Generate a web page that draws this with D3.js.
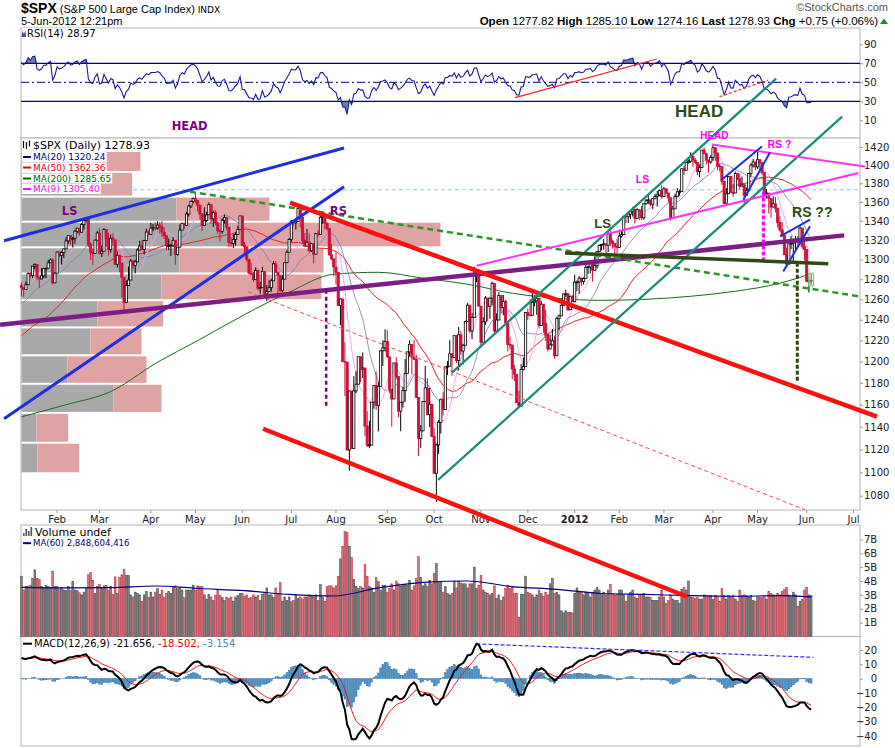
<!DOCTYPE html>
<html>
<head>
<meta charset="utf-8">
<script src="https://cdn.jsdelivr.net/npm/d3@7"></script>
<style>
  body { margin: 0; background: #fff; }
  svg { display: block; font-family: "DejaVu Sans", sans-serif; }
</style>
</head>
<body>
<svg id="chart" width="895" height="748"></svg>
<script>
// closes before the first drawn day (Oct 25 2010 - Jan 6 2011), only used to warm up the indicators
const warmupCloses = [1185.62,1185.64,1182.45,1183.78,1183.26,
  1184.38,1193.57,1197.96,1221.06,1225.85,1223.25,1213.40,1218.71,1213.54,1199.21,1197.75,1178.34,1178.59,1196.69,1199.73,1197.84,1180.73,1198.35,1189.40,1187.76,1180.55,
  1206.07,1221.53,1224.71,1223.12,1223.75,1228.28,1233.00,1240.40,1240.46,1241.59,1235.23,1242.87,1243.91,1247.08,1254.60,1258.84,1256.77,1257.54,1258.51,1259.78,1257.88,1257.64,
  1271.87,1270.20,1276.56,1273.85];

// daily closes, Jan 7 2011 - Jun 5 2012
const closes = [
  1271.50,1269.75,1274.48,1285.96,1283.76,1293.24,1295.02,1281.92,1280.26,1283.35,1290.84,1291.18,1296.63,1299.54,1276.34,1286.12,
  1307.59,1304.03,1307.10,1310.87,1319.05,1324.57,1320.88,1321.87,1329.15,1332.32,1328.01,1336.32,1340.43,1343.01,1315.44,1307.40,1306.10,1319.88,1327.22,
  1306.33,1308.44,1330.97,1321.15,1310.13,1321.82,1320.02,1295.11,1304.28,1296.39,1281.87,1256.88,1273.72,1279.21,1298.38,1293.77,1297.54,1309.66,1313.80,1310.19,1319.44,1328.26,1325.83,
  1332.41,1332.87,1332.63,1335.54,1333.51,1328.17,1324.46,1314.16,1314.41,1314.52,1319.68,1305.14,1312.62,1330.36,1337.38,1335.25,1347.24,1355.66,1360.48,1363.61,
  1361.22,1356.62,1347.32,1335.10,1340.20,1346.29,1357.16,1342.08,1348.65,1337.77,1329.47,1328.98,1340.68,1343.60,1333.27,1317.37,1316.28,1320.47,1325.69,1331.10,1345.20,
  1314.55,1312.94,1300.16,1286.17,1284.94,1279.56,1289.00,1270.98,1271.83,1287.87,1265.42,1267.64,1271.50,1278.36,1295.52,1287.14,1283.50,1268.45,1280.10,1296.67,1307.41,1320.64,
  1339.67,1337.88,1339.22,1353.22,1343.80,1319.49,1313.64,1317.72,1308.87,1316.14,1305.44,1326.73,1325.84,1343.80,1345.02,1337.43,1331.94,1304.89,1300.67,1292.28,
  1286.94,1254.05,1260.34,1200.07,1199.38,1119.46,1172.53,1120.76,1172.64,1178.81,1204.49,1192.76,1193.89,1140.65,1123.53,1123.82,1162.35,1177.60,1159.27,1176.80,1210.08,1212.92,1218.89,
  1204.42,1173.97,1165.24,1198.62,1185.90,1154.23,1162.27,1172.87,1188.68,1209.11,1216.01,1204.09,1202.09,1166.76,1129.56,1136.43,1162.95,1175.38,1151.06,1160.40,1131.42,
  1099.23,1123.95,1144.03,1164.97,1155.46,1194.89,1195.54,1207.25,1203.66,1224.58,1200.86,1225.38,1209.88,1215.39,1238.25,1254.19,1229.05,1242.00,1284.59,1285.09,1253.30,
  1218.28,1237.90,1261.15,1253.23,1261.12,1275.92,1229.10,1239.70,1263.85,1251.78,1257.81,1236.91,1216.13,1215.65,1192.98,1188.04,1161.79,1158.67,1192.55,1195.19,1246.96,
  1244.58,1244.28,1257.08,1258.47,1261.01,1234.35,1255.19,1236.47,1225.73,1211.82,1215.75,1219.66,1205.35,1241.30,1243.72,1254.00,1265.33,1265.43,1249.64,1263.02,1257.60,
  1277.06,1277.30,1281.06,1277.81,1280.70,1292.08,1292.48,1295.50,1289.09,1293.67,1308.04,1314.50,1315.38,1316.00,1314.65,1326.06,1318.43,1316.33,1313.01,1312.41,
  1324.09,1325.54,1344.90,1344.33,1347.05,1349.96,1351.95,1342.64,1351.77,1350.50,1343.23,1358.04,1361.23,1362.21,1357.66,1363.46,1365.74,1367.59,1372.18,1365.68,
  1374.09,1369.63,1364.33,1343.36,1352.63,1365.91,1370.87,1371.09,1395.95,1394.28,1402.60,1404.17,1409.75,1405.52,1402.89,1392.78,1397.11,1416.51,1412.52,1405.54,1403.28,1408.47,
  1419.04,1413.38,1398.96,1398.08,1382.20,1358.59,1368.71,1387.57,1370.26,1369.57,1390.78,1385.14,1376.92,1378.53,1366.94,1371.97,1390.69,1399.98,1403.36,1397.91,
  1405.82,1402.31,1391.57,1369.10,1369.58,1363.72,1354.58,1357.99,1353.39,1338.35,1330.66,1324.80,1304.86,1295.22,1315.99,1316.63,1318.86,1320.68,1317.82,1332.42,1313.32,1310.33,
  1278.04,1278.18,1278.93
];

const highs = [
  1276.8,1271.5,1277.6,1286.8,1287.0,1293.2,1296.1,1294.6,1281.9,1291.2,1291.3,1291.3,1299.7,1301.3,1301.3,1287.2,
  1308.0,1307.6,1308.6,1311.0,1322.9,1324.9,1324.6,1323.2,1330.8,1332.6,1330.6,1337.8,1340.8,1344.1,1338.9,1317.9,1310.9,1320.6,1329.4,
  1332.3,1314.4,1332.3,1331.1,1327.7,1325.7,1326.8,1320.0,1308.4,1304.3,1288.9,1280.9,1278.8,1292.7,1300.6,1299.0,1300.0,1311.3,1319.2,1319.7,1320.3,1331.7,1329.8,
  1337.9,1336.7,1338.2,1339.5,1338.8,1339.5,1333.2,1321.4,1321.4,1315.7,1323.0,1319.1,1312.6,1336.1,1337.5,1337.8,1349.6,1357.1,1361.7,1364.6,
  1370.6,1362.2,1355.4,1348.0,1354.4,1349.4,1359.4,1357.2,1351.0,1351.0,1339.4,1331.1,1342.7,1346.8,1342.9,1333.3,1323.4,1325.9,1328.5,1334.6,1345.2,
  1345.2,1318.0,1312.9,1300.6,1296.2,1287.2,1291.9,1289.0,1277.3,1292.5,1287.9,1274.1,1279.0,1280.4,1298.6,1298.6,1286.8,1284.0,1284.0,1296.7,1309.2,1322.0,
  1341.0,1340.0,1340.1,1356.5,1353.2,1343.3,1327.2,1331.5,1326.7,1317.1,1316.0,1327.2,1330.4,1347.0,1346.1,1344.1,1338.5,1331.9,1316.3,1300.7,
  1307.4,1286.9,1261.0,1260.3,1218.1,1199.4,1172.9,1172.6,1186.3,1190.7,1204.5,1204.5,1208.5,1193.9,1154.1,1145.5,1162.4,1178.0,1190.7,1181.2,1210.1,1220.1,1230.7,
  1230.0,1203.4,1165.3,1198.6,1204.2,1185.9,1162.5,1176.4,1202.4,1209.1,1220.1,1216.0,1220.4,1206.3,1166.8,1141.7,1163.0,1195.9,1184.4,1175.3,1159.9,
  1139.0,1125.2,1146.1,1165.5,1171.4,1194.9,1200.4,1220.3,1203.7,1224.6,1224.6,1233.1,1229.4,1216.7,1239.0,1256.5,1254.2,1246.3,1292.7,1287.1,1284.9,
  1238.9,1242.5,1263.2,1261.1,1261.7,1277.6,1261.7,1246.3,1267.0,1263.9,1264.3,1259.6,1237.4,1223.5,1215.6,1196.8,1188.0,1172.7,1197.4,1203.7,1247.0,
  1251.1,1260.1,1266.7,1264.0,1267.1,1260.9,1258.3,1255.2,1249.9,1225.7,1225.3,1231.0,1224.6,1242.8,1245.1,1255.2,1265.4,1269.4,1265.9,1263.5,1264.1,
  1284.6,1278.7,1283.1,1281.8,1282.0,1296.5,1293.8,1296.8,1295.5,1303.0,1308.1,1315.5,1315.4,1321.0,1315.4,1328.3,1333.5,1320.5,1316.3,1321.4,
  1330.7,1329.2,1345.3,1344.4,1349.2,1351.0,1354.3,1352.0,1353.4,1351.8,1355.9,1359.0,1363.4,1367.8,1362.2,1364.2,1368.9,1371.9,1373.1,1378.0,
  1376.2,1374.5,1369.6,1364.3,1356.0,1368.7,1374.8,1373.0,1396.1,1399.4,1402.6,1405.9,1414.0,1409.7,1407.8,1402.9,1400.5,1416.6,1419.2,1413.7,1403.3,1410.9,
  1422.4,1419.2,1413.4,1401.6,1398.0,1383.0,1374.7,1388.1,1387.6,1379.6,1392.8,1390.8,1390.4,1387.4,1378.5,1375.6,1391.4,1402.1,1406.6,1403.4,
  1415.3,1405.8,1403.1,1391.5,1373.9,1369.6,1363.7,1365.9,1365.2,1353.4,1344.9,1338.7,1326.4,1312.2,1316.0,1324.1,1320.7,1324.1,1324.2,1334.9,1331.3,1319.7,
  1310.3,1282.6,1285.1
];

const lows = [
  1262.7,1262.2,1269.6,1275.8,1282.0,1281.1,1290.2,1278.9,1271.3,1282.1,1281.1,1281.1,1291.2,1296.9,1274.6,1276.8,
  1286.1,1302.6,1294.8,1301.4,1312.8,1316.0,1314.9,1312.4,1316.1,1326.9,1324.6,1328.9,1330.9,1338.1,1312.6,1299.3,1294.3,1307.6,1320.9,
  1305.3,1302.6,1309.0,1312.6,1303.9,1306.9,1314.2,1294.5,1291.8,1287.0,1261.9,1249.1,1261.9,1274.0,1279.2,1290.4,1285.9,1297.7,1310.2,1310.2,1305.3,1321.9,1325.0,
  1328.9,1329.1,1330.0,1330.7,1326.6,1322.9,1321.1,1309.2,1309.5,1303.6,1312.6,1294.7,1303.9,1313.6,1331.0,1331.4,1335.3,1344.4,1353.6,1358.7,
  1358.6,1349.8,1341.5,1329.2,1336.4,1338.6,1346.3,1336.6,1333.5,1335.3,1326.6,1318.5,1326.6,1337.0,1330.5,1312.6,1313.0,1311.8,1314.2,1325.7,1331.1,
  1313.7,1305.6,1297.9,1284.9,1284.7,1277.1,1280.9,1268.5,1265.6,1272.2,1261.9,1258.1,1267.6,1267.6,1278.4,1286.8,1262.9,1267.4,1267.1,1280.1,1296.7,1307.4,
  1318.0,1335.0,1330.9,1339.2,1333.0,1316.4,1313.3,1314.5,1306.9,1307.6,1295.9,1305.4,1323.7,1325.8,1336.9,1331.1,1329.6,1303.6,1299.2,1282.9,
  1274.7,1254.0,1234.6,1199.5,1168.1,1119.3,1101.5,1120.8,1121.1,1170.5,1178.9,1180.5,1184.4,1131.6,1122.1,1121.1,1123.8,1156.3,1155.1,1135.9,1179.6,1195.8,1209.4,
  1203.4,1170.6,1140.1,1165.2,1183.3,1148.4,1136.1,1157.4,1162.7,1189.0,1204.5,1188.3,1201.3,1166.2,1114.2,1121.4,1136.1,1163.1,1150.3,1139.9,1131.3,
  1098.9,1074.8,1116.1,1134.0,1150.3,1158.7,1187.2,1195.9,1186.6,1205.5,1198.6,1191.5,1206.3,1197.3,1215.4,1238.7,1226.8,1221.1,1242.0,1277.0,1253.2,
  1215.6,1219.0,1234.8,1238.4,1240.8,1254.0,1226.4,1227.7,1240.7,1246.7,1244.3,1236.5,1209.4,1211.4,1183.2,1181.7,1161.8,1158.7,1158.7,1191.8,1196.7,
  1239.7,1243.4,1244.3,1253.0,1244.8,1231.5,1234.4,1227.3,1219.4,1209.5,1212.2,1215.2,1202.4,1205.4,1229.5,1243.7,1254.0,1262.3,1248.6,1249.6,1257.5,
  1258.0,1268.1,1265.3,1273.3,1274.6,1280.7,1285.4,1285.8,1277.6,1289.0,1291.0,1307.8,1309.2,1309.9,1306.1,1307.7,1313.6,1311.2,1300.5,1306.7,
  1312.4,1322.4,1325.5,1337.5,1337.7,1341.9,1344.6,1337.4,1342.6,1340.8,1340.8,1341.2,1357.2,1358.1,1355.5,1352.3,1363.5,1354.9,1366.0,1363.8,
  1365.7,1368.4,1359.1,1340.0,1343.4,1352.6,1366.0,1366.7,1371.1,1389.2,1394.3,1401.5,1402.4,1397.7,1400.6,1388.7,1386.7,1397.1,1411.9,1400.5,1391.7,1401.4,
  1404.5,1404.6,1394.1,1392.9,1378.2,1357.4,1358.6,1368.7,1369.9,1365.4,1369.6,1383.3,1372.9,1377.0,1358.8,1366.9,1372.0,1387.3,1397.3,1394.0,
  1395.7,1393.9,1388.7,1368.0,1363.9,1347.8,1343.1,1354.6,1348.9,1332.9,1328.5,1322.8,1304.9,1292.0,1295.7,1310.5,1296.5,1310.5,1314.2,1317.9,1310.8,1298.9,
  1277.3,1266.7,1274.2
];

// daily volume, billions of shares
const volumes = [
  4.35,3.35,3.6,3.6,3.7,4.2,4.8,4.2,4.1,3.6,3.45,3.7,3.6,3.55,4.7,3.6,
  3.6,3.4,3.55,3.35,3.3,3.6,3.3,3.95,3.35,3.3,3.15,3.0,3.2,3.45,4.45,4.6,4.05,3.1,3.6,
  3.75,3.45,3.65,3.7,3.35,3.6,3.05,4.3,3.1,4.25,4.45,4.85,4.4,4.4,3.0,2.85,3.2,3.1,3.0,2.55,3.0,3.25,2.8,
  3.2,2.85,3.2,3.45,3.05,3.35,2.8,3.1,3.25,3.1,3.6,3.65,3.45,3.55,3.35,2.8,3.35,3.35,3.35,3.7,
  3.35,3.65,3.6,3.6,3.0,2.7,3.05,2.85,2.6,2.95,3.3,2.95,2.8,2.6,2.8,2.75,2.85,2.55,2.85,2.95,3.1,
  3.1,2.9,3.0,2.75,2.8,3.0,2.85,2.95,2.6,3.05,3.2,3.5,3.0,3.0,2.8,3.5,3.1,3.9,2.55,2.85,2.6,2.85,
  2.5,2.6,3.0,2.75,2.85,2.7,2.85,2.85,3.0,2.9,2.85,3.0,2.6,3.75,2.85,2.55,3.6,3.65,3.65,3.5,
  3.65,4.35,5.6,6.5,7.55,7.5,6.5,5.7,4.1,3.6,3.45,3.6,3.5,5.2,4.35,3.6,3.5,3.2,4.25,3.95,3.35,3.7,3.7,
  3.2,3.45,3.8,3.35,4.0,3.8,3.6,3.7,3.75,3.7,4.05,3.35,3.65,4.2,5.75,4.25,3.65,3.8,3.6,4.05,3.8,
  4.55,5.25,3.95,3.9,3.2,3.6,3.1,3.0,3.1,4.0,3.5,4.0,3.85,3.8,3.8,3.5,3.8,3.8,5.0,3.45,3.7,
  4.4,3.35,3.2,3.1,3.0,3.1,3.65,2.75,3.0,2.6,2.85,3.45,3.7,3.45,3.6,3.1,3.1,1.4,3.05,3.05,4.35,
  3.2,3.1,3.0,2.8,3.0,3.35,3.1,2.9,3.2,3.0,3.8,4.2,3.1,3.2,3.0,1.85,1.7,1.85,1.75,1.75,1.7,
  3.1,3.5,3.2,3.2,3.0,3.2,3.1,2.85,3.2,3.35,3.55,3.35,3.1,3.2,3.0,3.35,3.75,3.1,3.0,3.05,
  3.35,3.35,3.0,2.55,3.0,3.2,3.35,2.85,2.75,3.0,3.0,3.1,2.85,2.85,2.8,2.6,2.6,2.6,2.85,3.35,
  2.85,2.4,2.6,3.0,2.7,2.6,2.6,2.4,3.4,3.55,3.35,4.0,2.85,2.8,2.75,2.8,2.7,2.7,3.0,2.95,2.85,2.95,
  2.7,2.95,2.85,2.55,3.45,2.95,2.7,2.95,2.85,2.95,2.7,2.55,3.35,2.95,3.0,2.95,2.85,2.95,2.6,2.55,
  2.85,2.8,2.8,2.85,2.7,3.25,3.1,3.0,2.95,3.1,3.0,3.25,3.4,3.55,3.0,2.85,3.2,3.0,2.15,2.55,2.7,3.35,
  3.55,3.0,2.95
];

// trading days per month shown (Jan 2011 counted from Jan 7; Jun 2012 full month so the Jul tick lands)
const monthLabels = ["Jan","Feb","Mar","Apr","May","Jun","Jul","Aug","Sep","Oct","Nov","Dec","2012","Feb","Mar","Apr","May","Jun","Jul"];
const monthDays = [16,19,23,20,21,22,20,23,21,21,21,21,20,20,22,20,22,21];

// 200-day and 60-day volume averages every 20 trading days
const sampleDays = [0,20,40,60,80,100,120,140,160,180,200,220,240,260,280,300,320,340,354];
const ma200Vals = [1149,1160,1172,1198,1221,1245,1267,1285,1287,1281,1275,1266,1261,1259,1260,1263,1268,1276,1285.65];
const volMa60Vals = [3.54,3.5,3.52,3.64,3.46,3.3,3.03,2.92,3.5,3.9,4.0,3.6,3.4,3.1,3.03,2.94,2.9,2.94,2.85];

// volume-by-price, 12 zones from lowest to highest close (relative units)
const pbvUp = [16,15,92,46,69,76,140,158,210,155,55,60];
const pbvDown = [41.7,31.7,48,79,51,65.7,160,144,209,93,55.7,59];

const priceTicks = [1080,1100,1120,1140,1160,1180,1200,1220,1240,1260,1280,1300,1320,1340,1360,1380,1400,1420];
const rsiTicks = [10,30,50,70,90];
const volTicks = [1,2,3,4,5,6,7];
const macdTicks = [-40,-30,-20,-10,0,10,20];

// hand-drawn annotations, [day, price]
const trendLines = [
  {pts: [[-7.8,1319.3],[144.6,1418.8]], color: "#1b2ee6", w: 3},
  {pts: [[-7.8,1147.3],[144.6,1376.4]], color: "#1b2ee6", w: 3},
  {pts: [[-9.6,1235.1],[368.8,1324.8]], color: "#7b1d84", w: 4.5},
  {pts: [[75.6,1371.0],[376.8,1262.5]], color: "#2a962a", w: 2.5, dash: "6,4"},
  {pts: [[120.4,1359.2],[383.5,1149.1]], color: "#ff1010", w: 4.5},
  {pts: [[108.3,1138.3],[298.4,997.7]], color: "#ff1010", w: 4.5},
  {pts: [[101.6,1267.5],[351.3,1068.2]], color: "#ff4040", w: 1, dash: "4,3"},
  {pts: [[136.6,1269.5],[136.6,1158.4]], color: "#800080", w: 2.5, dash: "4,3"},
  {pts: [[193.0,1189.5],[338.3,1498.2]], color: "#1c8a7c", w: 2.3},
  {pts: [[186.8,1093.6],[367.9,1454.2]], color: "#1c8a7c", w: 2.3},
  {pts: [[309.5,1422.6],[378.2,1398.5]], color: "#ff33ff", w: 2},
  {pts: [[204.1,1293.7],[375.2,1391.3]], color: "#ff33ff", w: 2},
  {pts: [[332.6,1371.3],[332.6,1299.8]], color: "#ff00ff", w: 3, dash: "4,2"},
  {pts: [[313.9,1384.0],[331.9,1420.6]], color: "#1b2ee6", w: 2},
  {pts: [[323.6,1362.4],[335.6,1414.0]], color: "#1b2ee6", w: 2},
  {pts: [[340.1,1323.8],[353.5,1341.3]], color: "#1b2ee6", w: 2},
  {pts: [[341.5,1287.9],[353.5,1334.3]], color: "#1b2ee6", w: 2},
  {pts: [[243.7,1306.6],[361.7,1295.7]], color: "#2e4a12", w: 3.5},
  {pts: [[347.8,1296.7],[347.8,1181.4]], color: "#2e4a12", w: 3, dash: "4,2"}
];
const levelLine = 1373;
const noteTexts = [
  {t: "HEAD", at: [75.4,1439.4], color: "#7f007f", size: 11.5, font: "DejaVu Sans"},
  {t: "LS", at: [21.6,1346.6], color: "#7f007f", size: 11.5, font: "DejaVu Sans"},
  {t: "RS", at: [142.1,1346.6], color: "#7f007f", size: 11.5, font: "DejaVu Sans"},
  {t: "HEAD", at: [303.8,1453.8], color: "#2e4a12", size: 17, font: "Liberation Sans"},
  {t: "HEAD", at: [310.6,1429.3], color: "#ff00ff", size: 10, font: "Liberation Sans"},
  {t: "RS ?", at: [339.8,1418.5], color: "#ff00ff", size: 10.5, font: "Liberation Sans"},
  {t: "LS", at: [278.4,1380.7], color: "#ff00ff", size: 10.5, font: "Liberation Sans"},
  {t: "RS ??", at: [354.5,1344.4], color: "#2e4a12", size: 14, font: "Liberation Sans"},
  {t: "LS", at: [260.5,1332.8], color: "#2e4a12", size: 13, font: "Liberation Sans"}
];
const rsiLines = [
  {pts: [[221.3,33.8],[284.8,74.5]], color: "#ff2020", w: 1.2},
  {pts: [[312.9,34.8],[334.8,52.4]], color: "#ff2020", w: 1.2, dash: "3,2"}
];
const macdLine = {pts: [[204,24.3],[355,14.9]], color: "#3333dd", w: 1.2, dash: "4,2"};

// ---------------------------------------------------------------

const svg = d3.select("#chart");
const L = 21, R = 860;
const rsiTop = 28, mainTop = 138, mainBot = 510, volTop = 525, volBot = 636.5, macdBot = 746;

const x = d3.scaleLinear().domain([-0.2, 375.9]).range([L, R]);
const yP = d3.scaleLog().domain([1068, 1430]).range([mainBot, mainTop]);
const yR = d3.scaleLinear().domain([0, 100]).range([129.8, 34.8]);
const yV = d3.scaleLinear().domain([0, 8]).range([volBot, volBot - 8 * 13.875]);
const yM = d3.scaleLinear().domain([-40, 20]).range([736, 650]);

// indicators from the closes
const all = warmupCloses.concat(closes);
const off = warmupCloses.length;
function sma(n) {
  return closes.map((c, d) => d3.mean(all.slice(d + off - n + 1, d + off + 1)));
}
function ema(arr, n) {
  const k = 2 / (n + 1), out = [arr[0]];
  for (let i = 1; i < arr.length; i++) out.push(arr[i] * k + out[i - 1] * (1 - k));
  return out;
}
const ma9 = sma(9), ma20 = sma(20), ma50 = sma(50);

let ag = 0, al = 0;
const rsiAll = [];
for (let i = 1; i < all.length; i++) {
  const ch = all[i] - all[i - 1];
  const g = Math.max(ch, 0), l = Math.max(-ch, 0);
  if (i <= 14) { ag += g / 14; al += l / 14; }
  else { ag = (ag * 13 + g) / 14; al = (al * 13 + l) / 14; }
  rsiAll[i] = 100 - 100 / (1 + ag / al);
}
const rsi = closes.map((c, d) => ({d, v: rsiAll[d + off]}));

const e12 = ema(all, 12), e26 = ema(all, 26);
const macdAll = e12.map((v, i) => v - e26[i]);
const sigAll = ema(macdAll, 9);
const macd = closes.map((c, d) => ({d, m: macdAll[d + off], s: sigAll[d + off], h: macdAll[d + off] - sigAll[d + off]}));

const days = closes.map((c, d) => {
  const o = d ? closes[d - 1] : warmupCloses[off - 1];
  return {d, o, c, h: Math.max(highs[d] ?? c, o, c), l: Math.min(lows[d] ?? c, o, c), v: volumes[d]};
});

// panel frames
[[rsiTop, mainTop], [mainTop, mainBot], [volTop, volBot], [volBot, macdBot]].forEach(p => {
  svg.append("rect").attr("x", L).attr("y", p[0]).attr("width", R - L).attr("height", p[1] - p[0])
    .attr("fill", "#fff").attr("stroke", "#b4b4b4");
});

// ---- header
svg.append("text").attr("x", 21).attr("y", 13).style("font-family", "Liberation Sans")
  .call(t => {
    t.append("tspan").text("$SPX").style("font-weight", "bold").style("font-size", "14px");
    t.append("tspan").text(" (S&P 500 Large Cap Index)").style("font-size", "11px");
    t.append("tspan").text(" INDX").style("font-size", "9px").style("font-family", "DejaVu Sans");
  });
svg.append("text").attr("x", 21).attr("y", 24.5).style("font-family", "Liberation Sans").style("font-size", "11px")
  .text("5-Jun-2012 12:21pm");
svg.append("text").attr("x", 888).attr("y", 10.5).attr("text-anchor", "end").style("font-family", "Liberation Sans")
  .style("font-size", "11px").attr("fill", "#555").text("\u00a9StockCharts.com");
svg.append("text").attr("x", 878).attr("y", 24.5).attr("text-anchor", "end").style("font-family", "Liberation Sans")
  .style("font-size", "11.5px")
  .call(t => {
    [["Open", " 1277.82  "], ["High", " 1285.10  "], ["Low", " 1274.16  "], ["Last", " 1278.93  "], ["Chg", " +0.75 (+0.06%)"]]
      .forEach(p => {
        t.append("tspan").text(p[0]).style("font-weight", "bold");
        t.append("tspan").text(p[1]);
      });
  });
svg.append("path").attr("d", "M880,24 L884,18.5 L888,24 Z").attr("fill", "#1a8a1a");

// ---- RSI panel
const rsiG = svg.append("g");
const rsiHi = d3.area().x(k => x(k.d)).y0(yR(70)).y1(k => yR(Math.max(k.v, 70)));
const rsiLo = d3.area().x(k => x(k.d)).y0(yR(30)).y1(k => yR(Math.min(k.v, 30)));
rsiG.append("path").datum(rsi).attr("d", rsiHi).attr("fill", "#6f7fa3");
rsiG.append("path").datum(rsi).attr("d", rsiLo).attr("fill", "#6f7fa3");
[70, 30].forEach(v => rsiG.append("line").attr("x1", L).attr("x2", R).attr("y1", yR(v)).attr("y2", yR(v))
  .attr("stroke", "#000080").attr("stroke-width", 1.2));
rsiG.append("line").attr("x1", L).attr("x2", R).attr("y1", yR(50)).attr("y2", yR(50))
  .attr("stroke", "#000080").attr("stroke-width", 1).attr("stroke-dasharray", "8,3,2,3");
rsiG.append("path").datum(rsi).attr("d", d3.line().x(k => x(k.d)).y(k => yR(k.v)))
  .attr("fill", "none").attr("stroke", "#1a1a9a").attr("stroke-width", 1.1);
rsiLines.forEach(a => rsiG.append("line")
  .attr("x1", x(a.pts[0][0])).attr("y1", yR(a.pts[0][1])).attr("x2", x(a.pts[1][0])).attr("y2", yR(a.pts[1][1]))
  .attr("stroke", a.color).attr("stroke-width", a.w).attr("stroke-dasharray", a.dash || null));

// ---- main panel
const mainG = svg.append("g");
// volume by price
const lo = d3.min(closes), hi = d3.max(closes), zw = (hi - lo) / 12;
const pbv = pbvUp.map((u, k) => ({k, u, dn: pbvDown[k]}));
const xPbv = d3.scaleLinear().domain([0, d3.max(pbv, z => z.u + z.dn)]).range([0, 419]);
pbv.forEach(z => {
  const y1 = yP(lo + (z.k + 1) * zw) + 1, y2 = yP(lo + z.k * zw) - 1;
  mainG.append("rect").attr("x", L + 0.5).attr("y", y1).attr("width", xPbv(z.u)).attr("height", y2 - y1).attr("fill", "#a9a9a9");
  mainG.append("rect").attr("x", L + 0.5 + xPbv(z.u)).attr("y", y1).attr("width", xPbv(z.dn)).attr("height", y2 - y1).attr("fill", "#e0a3a3");
});
mainG.append("line").attr("x1", L).attr("x2", R).attr("y1", yP(levelLine)).attr("y2", yP(levelLine))
  .attr("stroke", "#8fc0e8").attr("stroke-width", 1).attr("stroke-dasharray", "4,3");

// moving averages
const maLine = arr => d3.line().x((v, d) => x(d)).y(v => yP(v))(arr);
mainG.append("path").attr("d", d3.line().curve(d3.curveMonotoneX).x((v, i) => x(sampleDays[i])).y(v => yP(v))(ma200Vals))
  .attr("fill", "none").attr("stroke", "#137013").attr("stroke-width", 1);
mainG.append("path").attr("d", maLine(ma50)).attr("fill", "none").attr("stroke", "#ee1c1c").attr("stroke-width", 1);
mainG.append("path").attr("d", maLine(ma20)).attr("fill", "none").attr("stroke", "#7f7fbf").attr("stroke-width", 1).attr("opacity", 0.85);
mainG.append("path").attr("d", maLine(ma9)).attr("fill", "none").attr("stroke", "#f09cf0").attr("stroke-width", 1).attr("opacity", 0.9);

// candles
const red = "#d0103a";
const col = k => (k.c >= k.o ? "#000" : red);
mainG.selectAll(".wick").data(days).join("line").attr("class", "wick")
  .attr("x1", k => x(k.d)).attr("x2", k => x(k.d)).attr("y1", k => yP(k.h)).attr("y2", k => yP(k.l))
  .attr("stroke", col).attr("stroke-width", 1);
mainG.selectAll(".body").data(days).join("rect").attr("class", "body")
  .attr("x", k => x(k.d) - 1.1).attr("width", 2.2)
  .attr("y", k => yP(Math.max(k.o, k.c)))
  .attr("height", k => Math.max(0.8, yP(Math.min(k.o, k.c)) - yP(Math.max(k.o, k.c))))
  .attr("fill", k => (k.c >= k.o ? "#fff" : red)).attr("stroke", col).attr("stroke-width", 0.8);
const last = days[days.length - 1];
mainG.append("rect").attr("x", x(last.d) - 2.5).attr("y", yP(last.h) - 1).attr("width", 5)
  .attr("height", yP(last.l) - yP(last.h) + 2).attr("fill", "#cfe8c8").attr("fill-opacity", 0.5).attr("stroke", "#7fbf7f");

// x axis months
const cum = d3.cumsum(monthDays);
const monthTicks = monthLabels.slice(1).map((lab, k) => ({lab, d: cum[k]}));
mainG.selectAll(".mt").data(monthTicks).join("line").attr("class", "mt")
  .attr("x1", m => x(m.d)).attr("x2", m => x(m.d)).attr("y1", mainBot).attr("y2", mainBot + 3).attr("stroke", "#999");
mainG.selectAll(".ml").data(monthTicks).join("text").attr("class", "ml")
  .attr("x", m => x(m.d)).attr("y", 523).attr("text-anchor", "middle").style("font-size", "10px")
  .style("font-weight", m => (m.lab === "2012" ? "bold" : "normal")).attr("fill", "#222").text(m => m.lab);

// ---- volume panel
const volG = svg.append("g");
volG.selectAll("rect").data(days).join("rect")
  .attr("x", k => x(k.d) - 0.9).attr("width", 1.8)
  .attr("y", k => yV(k.v)).attr("height", k => yV(0) - yV(k.v))
  .attr("fill", k => (k.d && k.c < closes[k.d - 1] ? "#d8737b" : "#808080"))
  .attr("stroke", k => (k.d && k.c < closes[k.d - 1] ? "#b52a3c" : "#444")).attr("stroke-width", 0.5);
volG.append("path").attr("d", d3.line().curve(d3.curveMonotoneX).x((v, i) => x(sampleDays[i])).y(v => yV(v))(volMa60Vals))
  .attr("fill", "none").attr("stroke", "#000080").attr("stroke-width", 1.2);

// ---- MACD panel
const macdG = svg.append("g");
macdG.selectAll("rect").data(macd).join("rect")
  .attr("x", k => x(k.d) - 0.9).attr("width", 1.8)
  .attr("y", k => Math.min(yM(0), yM(k.h))).attr("height", k => Math.abs(yM(k.h) - yM(0)))
  .attr("fill", "#4d93cc").attr("stroke", "#2f6d9e").attr("stroke-width", 0.4);
macdG.append("path").datum(macd).attr("d", d3.line().x(k => x(k.d)).y(k => yM(k.s)))
  .attr("fill", "none").attr("stroke", "#f01818").attr("stroke-width", 1);
macdG.append("path").datum(macd).attr("d", d3.line().x(k => x(k.d)).y(k => yM(k.m)))
  .attr("fill", "none").attr("stroke", "#000").attr("stroke-width", 2);
macdG.append("line").attr("x1", x(macdLine.pts[0][0])).attr("y1", yM(macdLine.pts[0][1]))
  .attr("x2", x(macdLine.pts[1][0])).attr("y2", yM(macdLine.pts[1][1]))
  .attr("stroke", macdLine.color).attr("stroke-width", macdLine.w).attr("stroke-dasharray", macdLine.dash);

// ---- right axes
function rightAxis(scale, ticks, fmt, anchorEnd) {
  const g = svg.append("g").attr("transform", `translate(${R},0)`)
    .call(d3.axisRight(scale).tickValues(ticks).tickSize(3).tickPadding(1).tickFormat(fmt));
  g.select(".domain").remove();
  g.selectAll("line").attr("stroke", "#999");
  g.selectAll("text").style("font-size", "10px").style("font-family", "DejaVu Sans").attr("fill", "#222");
  if (anchorEnd) g.selectAll("text").attr("text-anchor", "end").attr("x", 17);
}
rightAxis(yR, rsiTicks, d3.format("d"));
rightAxis(yP, priceTicks, d3.format("d"));
rightAxis(yV, volTicks, v => v + "B");
rightAxis(yM, macdTicks, d3.format("d"), true);

// ---- annotations on top
const noteG = svg.append("g");
trendLines.forEach(a => noteG.append("line")
  .attr("x1", x(a.pts[0][0])).attr("y1", yP(a.pts[0][1])).attr("x2", x(a.pts[1][0])).attr("y2", yP(a.pts[1][1]))
  .attr("stroke", a.color).attr("stroke-width", a.w).attr("stroke-dasharray", a.dash || null));
noteTexts.forEach(n => noteG.append("text")
  .attr("x", x(n.at[0])).attr("y", yP(n.at[1])).attr("text-anchor", "middle")
  .style("font-family", n.font).style("font-weight", "bold").style("font-size", n.size + "px")
  .attr("fill", n.color).text(n.t));

// ---- legends
function legend(xPos, yPos, parts, size, marker) {
  const g = svg.append("g");
  const t = g.append("text").attr("x", xPos).attr("y", yPos).style("font-size", size + "px");
  parts.forEach(p => t.append("tspan").text(p[0]).attr("fill", p[1]));
  const bb = t.node().getBBox();
  g.insert("rect", () => t.node()).attr("x", L + 1).attr("y", bb.y).attr("width", bb.x + bb.width - L).attr("height", bb.height)
    .attr("fill", "#fff");
  if (marker) g.append("line").attr("x1", L + 2).attr("x2", xPos - 2).attr("y1", yPos - size * 0.33).attr("y2", yPos - size * 0.33)
    .attr("stroke", marker).attr("stroke-width", 2);
  return g;
}
const rl = legend(27, 37, [["RSI(14) 28.97", "#000"]], 10);
rl.append("path").attr("d", "M21.5,37 L22.5,31 L24,34 L25.5,30.5 L26,37 Z").attr("fill", "#3c4f8c");

const pl = legend(33, 149, [["$SPX (Daily) 1278.93", "#000"]], 11);
[[23.5, 141, 148], [26.5, 142, 149], [29.5, 140.5, 146.5]].forEach(c =>
  pl.append("line").attr("x1", c[0]).attr("x2", c[0]).attr("y1", c[1]).attr("y2", c[2]).attr("stroke", "#000").attr("stroke-width", 1.2));
legend(33, 160, [["MA(20) 1320.24", "#000080"]], 9, "#000080");
legend(33, 170.5, [["MA(50) 1362.36", "#ee0000"]], 9, "#ee0000");
legend(33, 181.5, [["MA(200) 1285.65", "#006400"]], 9, "#006400");
legend(33, 192, [["MA(9) 1305.40", "#ff00ff"]], 9, "#ff00ff");

const vl = legend(35, 536, [["Volume undef", "#000"]], 11);
[[23, 3], [25.5, 7], [28, 5], [30.5, 9]].forEach(b =>
  vl.append("rect").attr("x", b[0]).attr("y", 536 - b[1]).attr("width", 1.6).attr("height", b[1]).attr("fill", "#555"));
legend(33, 546, [["MA(60) 2,848,604,416", "#000080"]], 8.6, "#000080");
legend(34, 647, [["MACD(12,26,9) -21.656, ", "#000"], ["-18.502, ", "#ee0000"], ["-3.154", "#4a86c0"]], 10, "#000");
</script>
</body>
</html>
